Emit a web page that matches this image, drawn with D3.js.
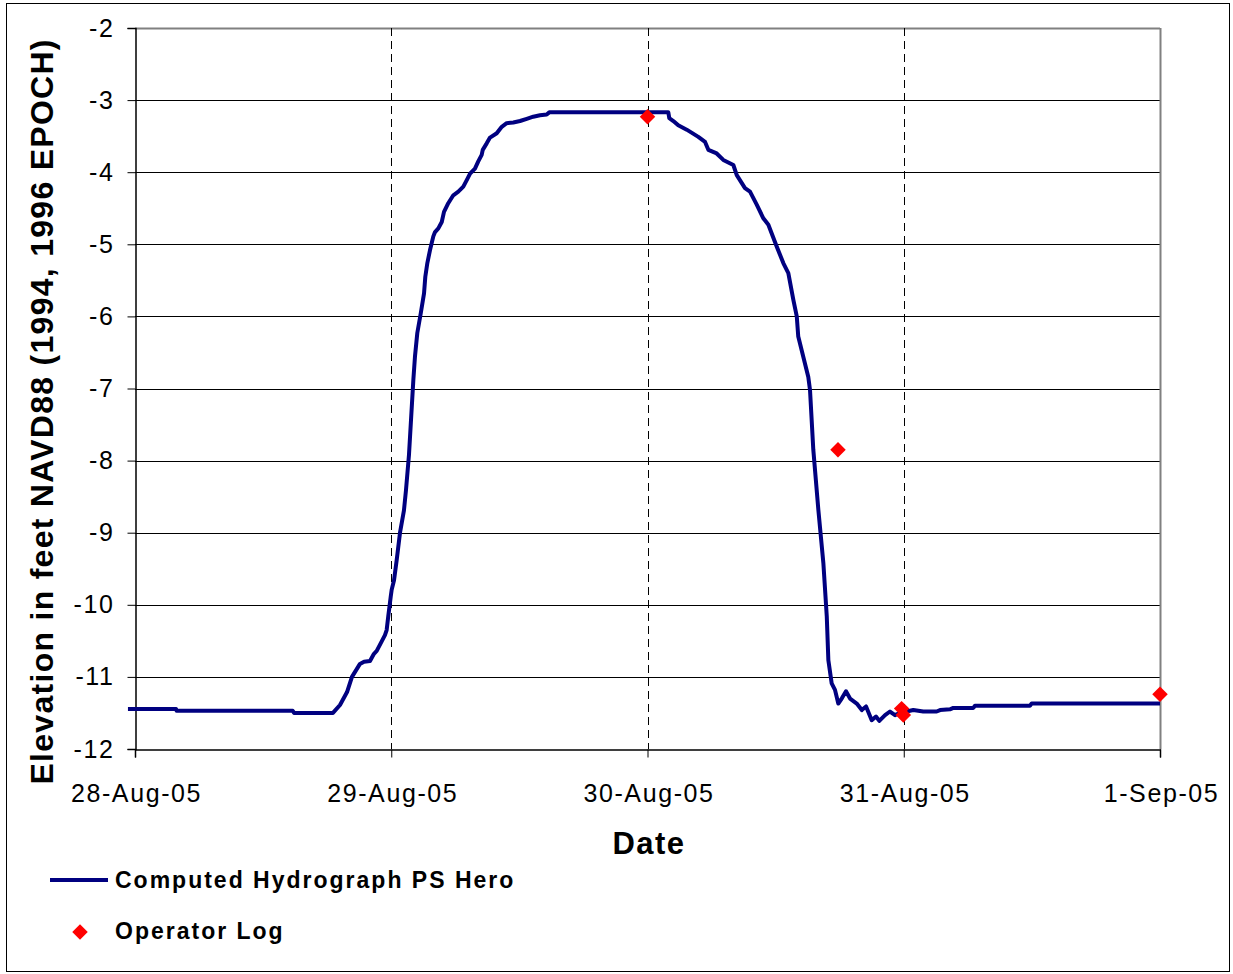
<!DOCTYPE html>
<html><head><meta charset="utf-8">
<script src="https://cdn.jsdelivr.net/npm/d3@7"></script>
<style>body{margin:0;background:#fff;} svg{display:block;font-family:Arial,"Liberation Sans",sans-serif;}</style>
</head><body>
<svg id="chart" width="1233" height="974"></svg>
<script>
// Hours since 28-Aug-05 00:00
const hydroHours = [-0.66,3.84,3.9,14.77,14.9,18.54,19.2,19.86,20.32,21.07,21.45,22.01,22.38,22.64,23.13,23.41,23.57,23.72,23.95,24.04,24.26,24.51,24.82,25.19,25.38,25.66,25.85,26.07,26.22,26.44,26.76,27.07,27.19,27.38,27.63,27.94,28.10,28.41,28.73,28.94,29.34,29.81,30.28,30.75,31.07,31.38,31.84,32.15,32.47,32.57,32.94,33.25,33.88,34.35,34.81,35.43,36.06,36.69,37.30,37.93,38.56,38.80,49.95,50.04,50.42,50.88,51.67,52.76,53.39,53.70,54.48,55.10,56.04,56.36,57.13,57.60,58.23,58.85,59.32,60.10,60.72,61.19,61.66,61.98,62.12,62.59,63.06,63.22,63.53,64.00,64.47,64.79,64.94,65.25,65.56,65.87,66.19,66.59,66.97,67.60,68.07,68.47,69.00,69.40,69.71,70.25,70.71,71.18,71.65,72.89,73.83,75.08,75.40,76.33,76.64,78.52,78.67,83.82,83.98,96.0];
const hydroElev = [-11.445,-11.445,-11.47,-11.47,-11.50,-11.50,-11.39,-11.21,-11.0,-10.82,-10.79,-10.78,-10.68,-10.64,-10.5,-10.42,-10.35,-10.16,-9.89,-9.79,-9.66,-9.38,-9.0,-8.69,-8.41,-7.92,-7.44,-6.88,-6.56,-6.23,-5.96,-5.68,-5.45,-5.26,-5.08,-4.89,-4.83,-4.78,-4.69,-4.55,-4.43,-4.32,-4.27,-4.20,-4.11,-4.02,-3.95,-3.85,-3.76,-3.69,-3.60,-3.52,-3.46,-3.37,-3.32,-3.31,-3.29,-3.26,-3.23,-3.21,-3.20,-3.17,-3.17,-3.25,-3.29,-3.35,-3.41,-3.51,-3.58,-3.69,-3.74,-3.83,-3.90,-4.04,-4.22,-4.27,-4.45,-4.64,-4.73,-5.03,-5.26,-5.40,-5.77,-6.00,-6.28,-6.56,-6.84,-7.02,-7.85,-8.68,-9.42,-10.16,-10.77,-11.09,-11.18,-11.37,-11.30,-11.20,-11.30,-11.37,-11.46,-11.41,-11.60,-11.55,-11.61,-11.53,-11.48,-11.53,-11.50,-11.46,-11.48,-11.48,-11.46,-11.45,-11.43,-11.43,-11.40,-11.40,-11.37,-11.37];
const logHours = [48.0, 65.84, 71.8, 71.96, 96.0];
const logElev = [-3.23, -7.85, -11.44, -11.53, -11.24];
const xTickHours = [0, 24, 48, 72, 96];
const xTickLabels = ["28-Aug-05","29-Aug-05","30-Aug-05","31-Aug-05","1-Sep-05"];
const yTicks = [-2,-3,-4,-5,-6,-7,-8,-9,-10,-11,-12];

const svg = d3.select("#chart");
const L=135, R=1160, T=28, B=749;
const x = d3.scaleLinear().domain([0,96]).range([L,R]);
const y = d3.scaleLinear().domain([-12,-2]).range([B,T]);
const FONT = "Arial,'Liberation Sans',sans-serif";

// outer border
svg.append("rect").attr("x",6.5).attr("y",3.5).attr("width",1223).attr("height",968)
  .attr("fill","none").attr("stroke","#000").attr("stroke-width",1);

// horizontal gridlines
svg.append("g").selectAll("line").data(yTicks.filter(d=>d>-12)).join("line")
  .attr("x1",L).attr("x2",R).attr("y1",d=>Math.round(y(d))+0.5).attr("y2",d=>Math.round(y(d))+0.5)
  .attr("stroke",d=>d===-2?"#808080":"#000").attr("stroke-width",d=>d===-2?2:1);
// vertical dashed gridlines
svg.append("g").selectAll("line").data(xTickHours.filter(d=>d>0&&d<96)).join("line")
  .attr("x1",d=>Math.round(x(d))+0.5).attr("x2",d=>Math.round(x(d))+0.5).attr("y1",T).attr("y2",B)
  .attr("stroke","#000").attr("stroke-width",1).attr("stroke-dasharray","8,5");
// right border
svg.append("line").attr("x1",R+0.5).attr("x2",R+0.5).attr("y1",T).attr("y2",B).attr("stroke","#808080").attr("stroke-width",2);

// axes
const yAxis = d3.axisLeft(y).tickValues(yTicks).tickSize(8).tickPadding(11).tickFormat(d=>d);
const gy = svg.append("g").attr("transform",`translate(${L+0.5},0)`).call(yAxis);
gy.select(".domain").attr("stroke","#000").attr("stroke-width",1.5);
gy.selectAll(".tick line").attr("stroke","#000");
gy.selectAll("text").attr("font-size",25).attr("fill","#000").attr("font-family",FONT).attr("letter-spacing",1.6).attr("dx",-2);

const xAxis = d3.axisBottom(x).tickValues(xTickHours).tickSize(8).tickPadding(27).tickFormat((d,i)=>xTickLabels[i]);
const gx = svg.append("g").attr("transform",`translate(0,${B+0.5})`).call(xAxis);
gx.select(".domain").attr("stroke","#000").attr("stroke-width",1.5);
gx.selectAll(".tick line").attr("stroke","#000");
gx.selectAll("text").attr("font-size",25).attr("fill","#000").attr("font-family",FONT).attr("letter-spacing",1.6).attr("dx",1);

// titles
svg.append("text").attr("transform",`translate(53,412) rotate(-90)`).attr("text-anchor","middle")
  .attr("font-size",32).attr("font-weight","bold").attr("textLength",745).attr("lengthAdjust","spacing")
  .text("Elevation in feet NAVD88 (1994, 1996 EPOCH)");
svg.append("text").attr("x",649).attr("y",854).attr("text-anchor","middle")
  .attr("font-size",31).attr("font-weight","bold").attr("letter-spacing",1.5).text("Date");

// hydrograph line
const pts = hydroHours.map((h,i)=>[h,hydroElev[i]]);
svg.append("path").datum(pts).attr("fill","none").attr("stroke","#000080").attr("stroke-width",4)
  .attr("stroke-linejoin","round")
  .attr("d",d3.line().x(d=>x(d[0])).y(d=>y(d[1])));

// operator log markers
const sym = d3.symbol().type(d3.symbolSquare).size(120);
svg.append("g").selectAll("path").data(logHours.map((h,i)=>[h,logElev[i]])).join("path")
  .attr("d",sym).attr("fill","#ff0000")
  .attr("transform",d=>`translate(${x(d[0])},${y(d[1])}) rotate(45)`);

// legend
svg.append("line").attr("x1",50).attr("x2",108).attr("y1",880).attr("y2",880).attr("stroke","#000080").attr("stroke-width",4);
svg.append("text").attr("x",115).attr("y",888).attr("font-size",23).attr("font-weight","bold").attr("letter-spacing",2).text("Computed Hydrograph PS Hero");
svg.append("path").attr("d",sym).attr("fill","#ff0000").attr("transform","translate(80,932) rotate(45)");
svg.append("text").attr("x",115).attr("y",939).attr("font-size",23).attr("font-weight","bold").attr("letter-spacing",2).text("Operator Log");
</script>
</body></html>
